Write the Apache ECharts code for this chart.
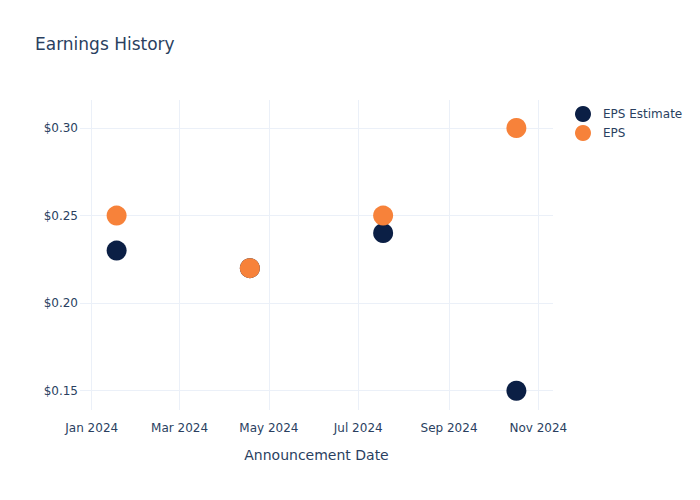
<!DOCTYPE html>
<html>
<head>
<meta charset="utf-8">
<script src="https://cdn.jsdelivr.net/npm/echarts@6/dist/echarts.min.js"></script>
<style>html,body{margin:0;padding:0;background:#fff}#c{width:700px;height:500px}</style>
</head>
<body>
<div id="c"></div>
<script>
const announceDates = ['2024-01-18', '2024-04-18', '2024-07-18', '2024-10-17'];
const epsEstimate = [0.23, 0.22, 0.24, 0.15];
const epsActual = [0.25, 0.22, 0.25, 0.30];
const xTickDates = ['2024-01-01', '2024-03-01', '2024-05-01', '2024-07-01', '2024-09-01', '2024-11-01'];
const xTickLabels = ['Jan 2024', 'Mar 2024', 'May 2024', 'Jul 2024', 'Sep 2024', 'Nov 2024'];
const yTicks = [0.15, 0.20, 0.25, 0.30];

// days since 2024-01-01
const day = d => { const p = d.split('-').map(Number); return Math.round((Date.UTC(p[0], p[1] - 1, p[2]) - Date.UTC(2024, 0, 1)) / 86400000); };
const xTickDays = xTickDates.map(day);
const fontFam = '"DejaVu Sans", sans-serif';
const txt = '#2a3f5f';

const chart = echarts.init(document.getElementById('c'), null, {renderer: 'svg'});
chart.setOption({
  animation: false,
  backgroundColor: '#fff',
  title: {
    text: 'Earnings History', left: 30, top: 30,
    textStyle: {fontFamily: fontFam, fontSize: 17, fontWeight: 'normal', color: txt}
  },
  legend: {
    orient: 'vertical', left: 570, top: 101,
    icon: 'circle', itemWidth: 16, itemHeight: 16, itemGap: 3,
    textStyle: {fontFamily: fontFam, fontSize: 12, color: txt, padding: [0, 0, 0, 7]},
    data: ['EPS Estimate', 'EPS']
  },
  grid: {left: 80, right: 147, top: 100, bottom: 90, containLabel: false},
  xAxis: {
    type: 'value',
    min: day('2023-12-24'), max: day('2024-11-11'),
    name: 'Announcement Date', nameLocation: 'middle', nameGap: 38,
    nameTextStyle: {fontFamily: fontFam, fontSize: 14, color: txt},
    axisLine: {show: false},
    axisTick: {show: false, customValues: xTickDays},
    axisLabel: {
      customValues: xTickDays, margin: 12,
      fontFamily: fontFam, fontSize: 12, color: txt,
      formatter: v => { const i = xTickDays.indexOf(Math.round(v)); return i >= 0 ? xTickLabels[i] : ''; }
    },
    splitLine: {show: true, lineStyle: {color: '#ebf0f8', width: 1}}
  },
  yAxis: {
    type: 'value', min: 0.139, max: 0.316,
    axisLine: {show: false},
    axisTick: {show: false, customValues: yTicks},
    axisLabel: {
      customValues: yTicks, margin: 2,
      fontFamily: fontFam, fontSize: 12, color: txt,
      formatter: v => '$' + v.toFixed(2)
    },
    splitLine: {show: true, lineStyle: {color: '#ebf0f8', width: 1}}
  },
  series: [
    {
      name: 'EPS Estimate', type: 'scatter', symbol: 'circle', symbolSize: 20,
      itemStyle: {color: '#0b1f45', opacity: 1},
      data: announceDates.map((d, i) => [day(d), epsEstimate[i]])
    },
    {
      name: 'EPS', type: 'scatter', symbol: 'circle', symbolSize: 20,
      itemStyle: {color: '#f7823a', opacity: 1},
      data: announceDates.map((d, i) => [day(d), epsActual[i]])
    }
  ]
});
</script>
</body>
</html>
